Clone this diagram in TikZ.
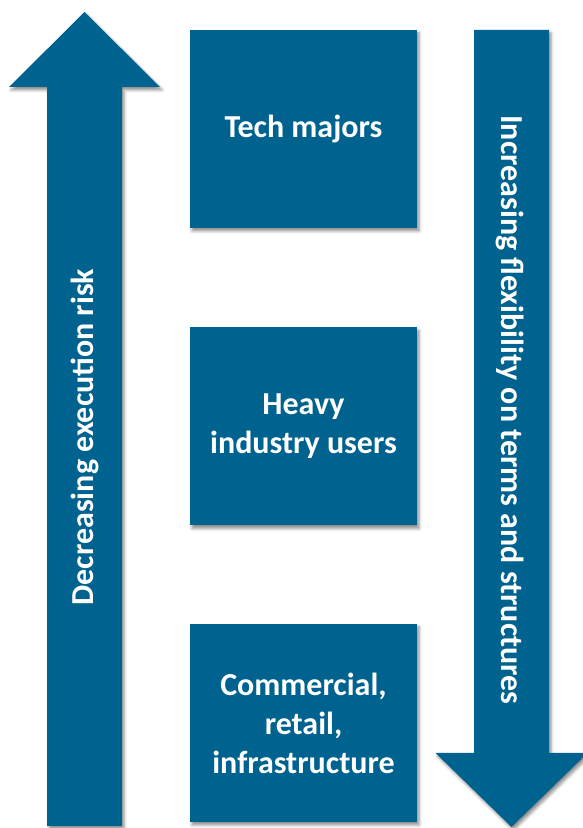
\documentclass[tikz,border=0pt]{standalone}
\usepackage{fontspec}
\setmainfont{Carlito}
\usetikzlibrary{shadows.blur}
\definecolor{tealblue}{RGB}{0,98,142}

\begin{document}
\begin{tikzpicture}[x=1pt,y=1pt,
	box/.style={fill=tealblue,text=white,align=center,minimum width=227pt,minimum height=198pt,
		blur shadow={shadow xshift=2pt,shadow yshift=-3pt,shadow blur radius=3pt,shadow opacity=45}},
	bigarrow/.style={fill=tealblue,
		blur shadow={shadow xshift=2pt,shadow yshift=-3pt,shadow blur radius=3pt,shadow opacity=45}},
	arrowlabel/.style={text=white},
	font=\bfseries\fontsize{32}{39}\selectfont]
	\useasboundingbox (0,0) rectangle (583,828);
	\clip (0,0) rectangle (583,828);

	% arrows
	\path[bigarrow] (47,2) -- (47,741) -- (9,741) -- (84.5,816) -- (160,741) -- (122,741) -- (122,2) -- cycle;
	\path[bigarrow] (474,798) -- (474,75) -- (435.5,75) -- (511.5,1) -- (587.5,75) -- (549,75) -- (549,798) -- cycle;
	\node[arrowlabel,rotate=90] (risk) at (85,391) {Decreasing execution risk};
	\node[arrowlabel,rotate=-90] (flex) at (510,418) {Increasing flexibility on terms and structures};

	% boxes
	\node[box] (tech) at (303.5,699) {Tech majors};
	\node[box] (heavy) at (303.5,401.5) {Heavy\\industry users};
	\node[box] (comm) at (303.5,105) {Commercial,\\retail,\\infrastructure};
\end{tikzpicture}
\end{document}
